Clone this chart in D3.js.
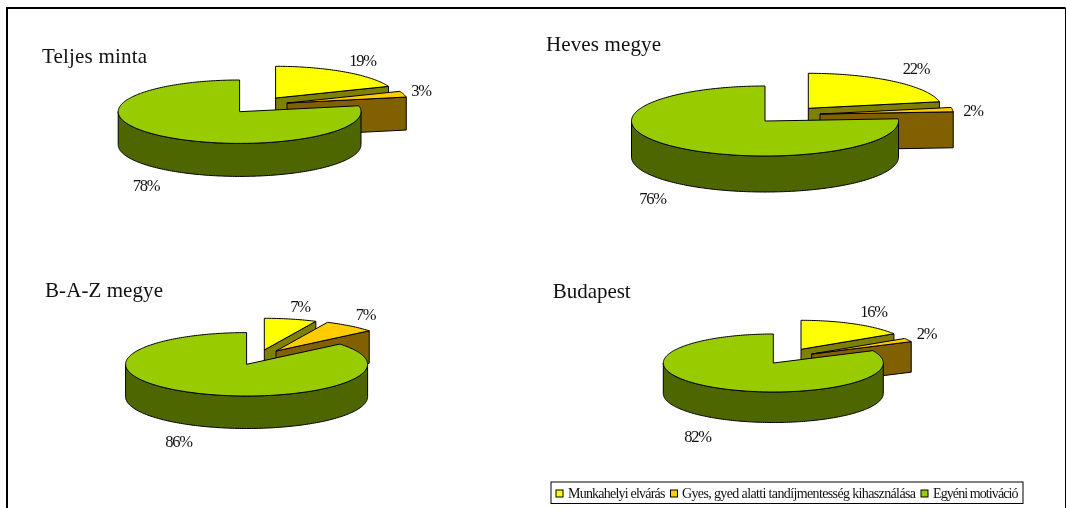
<!DOCTYPE html>
<html><head><meta charset="utf-8">
<script src="https://cdn.jsdelivr.net/npm/d3@7/dist/d3.min.js"></script>
<style>html,body{margin:0;padding:0;background:#fff}svg{display:block}
text{font-family:"Liberation Serif","Times New Roman",serif;fill:#111}</style>
</head><body><div id="chart"></div>
<script>
// ---- data ----
const seriesNames = ["Munkahelyi elvárás", "Gyes, gyed alatti tandíjmentesség kihasználása", "Egyéni motiváció"];
const panelTitles = ["Teljes minta", "Heves megye", "B-A-Z megye", "Budapest"];
const teljesValues = [19, 3, 78];
const hevesValues = [22, 2, 76];
const bazValues = [7, 7, 86];
const budapestValues = [16, 2, 82];
const panelValues = [teljesValues, hevesValues, bazValues, budapestValues];

// ---- styles and layout (no values) ----
const topColors = ["#ffff00", "#ffcc00", "#99cc00"];
const faceColors = ["#808000", "#806000", "#4d6600"];
const layouts = [
  {cx:239.6, cy:111.7, rx:121.4, ry:31.7, d:33, off:[[36,-13.7],[47.4,-8.7]],
   title:[42,62.5,105], labels:[[362.5,66],[421,96],[146,190.5]]},
  {cx:765, cy:121, rx:133.5, ry:35, d:36, off:[[43.3,-12.7],[55,-7]],
   title:[546,51,115], labels:[[916,74],[973,116],[652.5,204]]},
  {cx:246.6, cy:364.3, rx:121, ry:31.7, d:32.5, off:[[17.7,-14.3],[29.4,-13.3]],
   title:[45,296.7,118], labels:[[300,311.5],[365.5,320],[178.5,447]]},
  {cx:773.3, cy:363, rx:110, ry:29, d:30.5, off:[[27.7,-13.7],[38.4,-9]],
   title:[552.7,298,78], labels:[[873.5,317],[926.5,339],[697.5,441.5]]}
];

const W = 1066, H = 508;
const svg = d3.select("#chart").append("svg").attr("width", W).attr("height", H);

// frame
svg.append("rect").attr("x",0).attr("y",0).attr("width",W).attr("height",H).attr("fill","#fff");
svg.append("path").attr("d",`M7,${H}V8H1065.5`).attr("fill","none").attr("stroke","#000").attr("stroke-width",2);
svg.append("line").attr("x1",1065.5).attr("x2",1065.5).attr("y1",8).attr("y2",H).attr("stroke","#000").attr("stroke-width",1);

const plot = svg.append("g").style("filter","blur(0.35px)");
const pie = d3.pie().sort(null).value(d => d);
const line = d3.line();

function arcPts(sx, sy, ox, oy, a0, a1, dy) {
  const n = Math.max(2, Math.ceil(Math.abs(a1 - a0) / 0.02));
  return d3.range(n + 1).map(i => {
    const a = a0 + (a1 - a0) * i / n;
    return [sx(Math.sin(a)) + ox, sy(Math.cos(a)) + oy + dy];
  });
}

panelValues.forEach((vals, p) => {
  const L = layouts[p];
  const sx = d3.scaleLinear().domain([-1, 1]).range([L.cx - L.rx, L.cx + L.rx]);
  const sy = d3.scaleLinear().domain([-1, 1]).range([L.cy + L.ry, L.cy - L.ry]);
  const g = plot.append("g");
  const arcs = pie(vals);
  arcs.forEach((s, i) => {
    const [ox, oy] = L.off[i] || [0, 0];
    const apex = [sx(0) + ox, sy(0) + oy];
    const rim = arcPts(sx, sy, ox, oy, s.startAngle, s.endAngle, 0);
    const end = rim[rim.length - 1];
    // cut face at the end angle when it looks toward the viewer
    if (s.endAngle < Math.PI) {
      g.append("path").attr("d", line([apex, end, [end[0], end[1] + L.d], [apex[0], apex[1] + L.d]]) + "Z")
        .attr("fill", faceColors[i]).attr("stroke", "#000").attr("stroke-width", 1).attr("stroke-linejoin","round");
    }
    // outer wall on the visible front half
    const w0 = Math.max(s.startAngle, Math.PI / 2), w1 = Math.min(s.endAngle, 3 * Math.PI / 2);
    if (w1 > w0) {
      const upper = arcPts(sx, sy, ox, oy, w0, w1, 0);
      const lower = arcPts(sx, sy, ox, oy, w0, w1, L.d).reverse();
      g.append("path").attr("d", line(upper.concat(lower)) + "Z")
        .attr("fill", faceColors[i]).attr("stroke", "#000").attr("stroke-width", 1).attr("stroke-linejoin","round");
    }
    // top surface
    g.append("path").attr("d", line([apex].concat(rim)) + "Z")
      .attr("fill", topColors[i]).attr("stroke", "#000").attr("stroke-width", 1).attr("stroke-linejoin","round");
    // value label
    const [lx, ly] = L.labels[i];
    g.append("text").attr("x", lx).attr("y", ly).attr("text-anchor", "middle")
      .attr("font-size", 16.5).attr("letter-spacing", -1.2).text(s.value + "%");
  });
  const [tx, ty, tw] = L.title;
  g.append("text").attr("x", tx).attr("y", ty).attr("font-size", 21)
    .attr("textLength", tw).attr("lengthAdjust", "spacing").text(panelTitles[p]);
});

// legend
const legend = plot.append("g");
legend.append("rect").attr("x",551).attr("y",482).attr("width",472).attr("height",21.5)
  .attr("fill","#fff").attr("stroke","#000").attr("stroke-width",1);
const legendX = d3.scaleOrdinal().domain(seriesNames).range([[556,568,97.5],[670.5,682,234],[921,933,85.5]]);
seriesNames.forEach((name, i) => {
  const [bx, tx, tw] = legendX(name);
  legend.append("rect").attr("x",bx).attr("y",490).attr("width",7).attr("height",7)
    .attr("fill",topColors[i]).attr("stroke","#000").attr("stroke-width",1);
  legend.append("text").attr("x",tx).attr("y",497.5).attr("font-size",14)
    .attr("textLength",tw).attr("lengthAdjust","spacing").text(name);
});
</script></body></html>
